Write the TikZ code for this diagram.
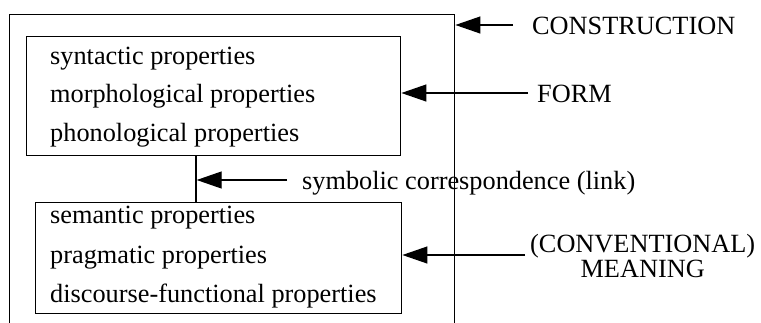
\documentclass[tikz,border=0pt]{standalone}
\usepackage{fontspec}
\setmainfont{Liberation Serif}
\usetikzlibrary{arrows.meta}
\tikzset{
  box/.style={draw, line width=1.4pt, inner sep=0pt, anchor=north west},
  prop/.style={anchor=base west, inner sep=0pt, font=\fontsize{26.3}{29}\selectfont},
  lbl/.style={anchor=base west, inner sep=0pt, font=\fontsize{26.3}{29}\selectfont},
  arr/.style={line width=1.2pt, -{Triangle[length=25pt,width=17pt]}},
  conn/.style={line width=1.4pt}
}
\begin{document}
\begin{tikzpicture}[x=1pt,y=-1pt]
\useasboundingbox (0,0) rectangle (761,322);
% outer construction box (open at bottom, runs off the page)
\node[box, minimum width=445pt, minimum height=340pt] (outer) at (9,14) {};
% form box
\node[box, minimum width=374pt, minimum height=119pt] (form) at (26,36) {};
\node[prop] (syn) at (50,64) {syntactic properties};
\node[prop] (mor) at (50,102) {morphological properties};
\node[prop] (pho) at (50,141) {phonological properties};
% meaning box
\node[box, minimum width=366pt, minimum height=111pt] (mean) at (35,202) {};
\node[prop] (sem) at (50,223) {semantic properties};
\node[prop] (pra) at (50,263) {pragmatic properties};
\node[prop] (dis) at (50,302) {discourse-functional properties};
% symbolic link
\coordinate (lk) at (196,0);
\draw[conn] (form.south -| lk) -- (mean.north -| lk);
% labels
\node[lbl] (cons) at (532,34) {CONSTRUCTION};
\node[lbl] (formlbl) at (537,102) {FORM};
\node[lbl] (symb) at (302,189) {symbolic correspondence (link)};
\node[anchor=west, inner sep=0pt, align=center, font=\fontsize{26.3}{25}\selectfont] (meanlbl) at (530,256) {(CONVENTIONAL)\\MEANING};
% arrows
\coordinate (ca) at (513,25);
\coordinate (fa) at (528,93);
\coordinate (sa) at (287,180);
\coordinate (ma) at (525,255);
\draw[arr] (ca) -- (outer.east |- ca);
\draw[arr] (fa) -- (form.east |- fa);
\draw[arr] (sa) -- ([xshift=0.7pt]sa -| lk);
\draw[arr] (ma) -- (mean.east |- ma);
\end{tikzpicture}
\end{document}
